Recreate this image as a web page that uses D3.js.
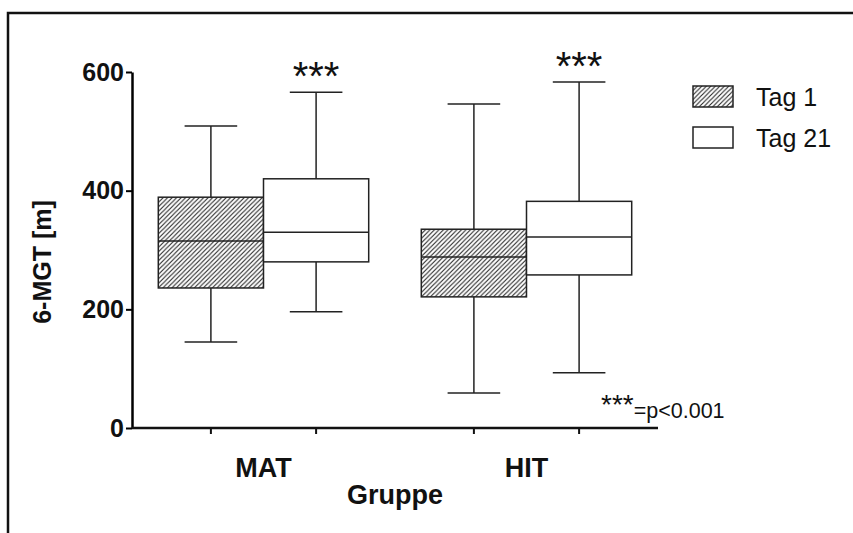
<!DOCTYPE html>
<html>
<head>
<meta charset="utf-8">
<script src="https://cdn.jsdelivr.net/npm/d3@7"></script>
<style>
  body { margin: 0; background: #fff; }
  svg { display: block; font-family: "Liberation Sans", Arial, sans-serif; }
</style>
</head>
<body>
<div id="chart"></div>
<script>
// chart data
const groups = ['MAT', 'HIT'];
const days = ['Tag 1', 'Tag 21'];
// [min, q1, median, q3, max] for each group
const tag1Values = [[145, 236, 315, 389, 509], [59, 221, 288, 335, 546]];
const tag21Values = [[196, 280, 330, 420, 566], [93, 258, 322, 382, 583]];
const yTicks = [0, 200, 400, 600];
const stars = ['***', '***'];

const width = 853;
const height = 533;
const margin = { top: 72, right: 195, bottom: 105, left: 132 };

function createBoxPlot() {
    const svg = d3.select('#chart')
        .append('svg')
        .attr('width', width)
        .attr('height', height);

    // hatch pattern for Tag 1
    svg.append('defs')
        .append('pattern')
        .attr('id', 'hatch')
        .attr('patternUnits', 'userSpaceOnUse')
        .attr('width', 4.5)
        .attr('height', 4.5)
        .append('path')
        .attr('d', 'M0,4.5 L4.5,0 M-1,1 L1,-1 M3.5,5.5 L5.5,3.5')
        .attr('stroke', '#222')
        .attr('stroke-width', 1.1);

    // outer frame
    svg.append('rect')
        .attr('x', 8)
        .attr('y', 13)
        .attr('width', width + 20)
        .attr('height', height + 20)
        .attr('fill', 'none')
        .attr('stroke', '#111')
        .attr('stroke-width', 2.5);

    // scales
    const xScale = d3.scaleBand()
        .domain(groups)
        .range([margin.left, width - margin.right])
        .paddingInner(0.2)
        .paddingOuter(0.1);

    const dayScale = d3.scaleBand()
        .domain(days)
        .range([0, xScale.bandwidth()]);

    const yScale = d3.scaleLinear()
        .domain([0, 600])
        .range([height - margin.bottom, margin.top]);

    // flatten into one record per box
    const boxes = [];
    groups.forEach((g, i) => {
        boxes.push({ group: g, day: days[0], v: tag1Values[i] });
        boxes.push({ group: g, day: days[1], v: tag21Values[i], star: stars[i] });
    });

    const bw = dayScale.bandwidth();
    const box = svg.append('g')
        .selectAll('g')
        .data(boxes)
        .join('g')
        .attr('transform', d => `translate(${xScale(d.group) + dayScale(d.day)},0)`)
        .attr('stroke', '#222')
        .attr('stroke-width', 1.5);

    // whiskers (outside the box only)
    box.append('line')
        .attr('x1', bw / 2).attr('x2', bw / 2)
        .attr('y1', d => yScale(d.v[0])).attr('y2', d => yScale(d.v[1]));
    box.append('line')
        .attr('x1', bw / 2).attr('x2', bw / 2)
        .attr('y1', d => yScale(d.v[3])).attr('y2', d => yScale(d.v[4]));
    box.append('line')
        .attr('x1', bw / 4).attr('x2', bw * 3 / 4)
        .attr('y1', d => yScale(d.v[0])).attr('y2', d => yScale(d.v[0]));
    box.append('line')
        .attr('x1', bw / 4).attr('x2', bw * 3 / 4)
        .attr('y1', d => yScale(d.v[4])).attr('y2', d => yScale(d.v[4]));

    // boxes
    box.append('rect')
        .attr('x', 0)
        .attr('width', bw)
        .attr('y', d => yScale(d.v[3]))
        .attr('height', d => yScale(d.v[1]) - yScale(d.v[3]))
        .attr('fill', d => d.day === days[0] ? 'url(#hatch)' : '#fff');

    // medians
    box.append('line')
        .attr('x1', 0).attr('x2', bw)
        .attr('y1', d => yScale(d.v[2])).attr('y2', d => yScale(d.v[2]));

    // significance stars
    box.filter(d => d.star)
        .append('text')
        .attr('x', bw / 2)
        .attr('y', d => yScale(d.v[4]) - 2)
        .attr('text-anchor', 'middle')
        .attr('stroke', 'none')
        .attr('fill', '#111')
        .style('font-size', '40px')
        .text(d => d.star);

    // axes
    const yAxis = svg.append('g')
        .attr('transform', `translate(${margin.left},0)`)
        .call(d3.axisLeft(yScale).tickValues(yTicks).tickSize(6).tickPadding(2).tickSizeOuter(0));
    yAxis.select('.domain').attr('stroke-width', 2.5);
    yAxis.selectAll('.tick line').attr('stroke-width', 2);
    yAxis.selectAll('text')
        .style('font-size', '25px')
        .style('font-weight', 'bold')
        .attr('fill', '#111');

    const tickPositions = boxes.map(d => xScale(d.group) + dayScale(d.day) + bw / 2);
    const xAxis = svg.append('g')
        .attr('transform', `translate(0,${height - margin.bottom})`);
    xAxis.append('line')
        .attr('x1', margin.left).attr('x2', width - margin.right)
        .attr('stroke', '#111').attr('stroke-width', 2.5);
    xAxis.selectAll('.tk')
        .data(tickPositions)
        .join('line')
        .attr('class', 'tk')
        .attr('x1', d => d).attr('x2', d => d)
        .attr('y1', 0).attr('y2', 6)
        .attr('stroke', '#111').attr('stroke-width', 2);
    xAxis.selectAll('.cat')
        .data(groups)
        .join('text')
        .attr('class', 'cat')
        .attr('x', d => xScale(d) + xScale.bandwidth() / 2)
        .attr('y', 49)
        .attr('text-anchor', 'middle')
        .style('font-size', '27px')
        .style('font-weight', 'bold')
        .attr('fill', '#111')
        .text(d => d);

    // axis titles
    svg.append('text')
        .attr('x', (margin.left + width - margin.right) / 2)
        .attr('y', 504)
        .attr('text-anchor', 'middle')
        .style('font-size', '27px')
        .style('font-weight', 'bold')
        .attr('fill', '#111')
        .text('Gruppe');

    svg.append('text')
        .attr('transform', 'translate(51,262) rotate(-90)')
        .attr('text-anchor', 'middle')
        .style('font-size', '25px')
        .style('font-weight', 'bold')
        .attr('fill', '#111')
        .text('6-MGT [m]');

    // legend
    const legend = svg.append('g')
        .selectAll('g')
        .data(days)
        .join('g')
        .attr('transform', (d, i) => `translate(693,${86 + i * 41})`);
    legend.append('rect')
        .attr('width', 40)
        .attr('height', 21)
        .attr('fill', (d, i) => i === 0 ? 'url(#hatch)' : '#fff')
        .attr('stroke', '#222')
        .attr('stroke-width', 1.5);
    legend.append('text')
        .attr('x', 63)
        .attr('y', 20)
        .style('font-size', '25px')
        .attr('fill', '#111')
        .text(d => d);

    // p value note
    const note = svg.append('text')
        .attr('x', 601)
        .attr('y', 418)
        .attr('fill', '#111');
    note.append('tspan')
        .attr('dy', -4)
        .style('font-size', '28px')
        .text('***');
    note.append('tspan')
        .attr('dy', 4)
        .style('font-size', '21.5px')
        .text('=p<0.001');
}

createBoxPlot();
</script>
</body>
</html>
